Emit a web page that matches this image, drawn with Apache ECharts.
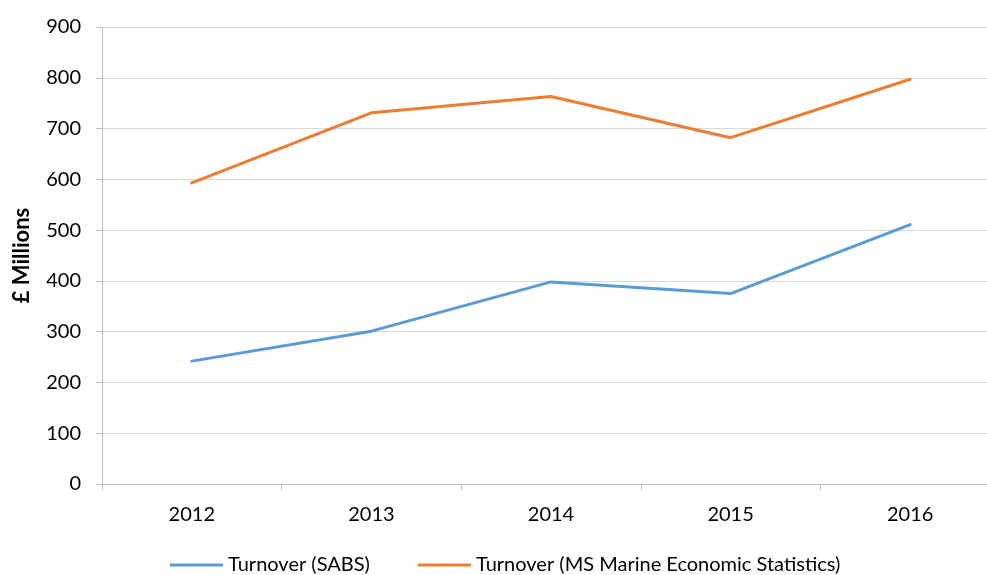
<!DOCTYPE html>
<html>
<head>
<meta charset="utf-8">
<script src="https://cdn.jsdelivr.net/npm/echarts@6/dist/echarts.min.js"></script>
<style>
  html, body { margin: 0; padding: 0; background: #fff; }
  #chart { width: 987px; height: 575px; }
</style>
</head>
<body>
<div id="chart"></div>
<script>
const years = ['2012', '2013', '2014', '2015', '2016'];
const sabs = [242, 301, 398, 375, 511];
const marine = [593, 731, 763, 682, 797];

const font = 'Lato, "Open Sans", sans-serif';
const chart = echarts.init(document.getElementById('chart'));

chart.setOption({
  animation: false,
  textStyle: { fontFamily: font },
  color: ['#5b9bd5', '#ed7d31'],
  grid: { left: 102, right: -13, top: 27, bottom: 91, outerBoundsMode: 'none', containLabel: false },
  legend: {
    top: 550,
    left: 165,
    padding: [5, 5],
    icon: 'rect',
    itemWidth: 53,
    itemHeight: 3,
    itemGap: 48,
    textStyle: { fontSize: 20, color: '#000', fontFamily: font },
    data: ['Turnover (SABS)', 'Turnover (MS Marine Economic Statistics)']
  },
  xAxis: {
    type: 'category',
    data: years,
    boundaryGap: true,
    axisLine: { lineStyle: { color: '#bfbfbf', width: 1 } },
    axisTick: { show: true, length: 6, lineStyle: { color: '#bfbfbf' } },
    axisLabel: { fontSize: 20, color: '#000', margin: 21 }
  },
  yAxis: {
    type: 'value',
    min: 0,
    max: 900,
    interval: 100,
    name: '£ Millions',
    nameLocation: 'middle',
    nameGap: 69,
    nameTextStyle: { fontSize: 22, fontWeight: 'bold', color: '#000' },
    axisLine: { show: true, lineStyle: { color: '#bfbfbf', width: 1 } },
    axisTick: { show: true, length: 6, lineStyle: { color: '#bfbfbf' } },
    axisLabel: { fontSize: 20, color: '#000', margin: 21 },
    splitLine: { lineStyle: { color: '#d9d9d9', width: 1 } }
  },
  series: [
    {
      name: 'Turnover (SABS)',
      type: 'line',
      data: sabs,
      symbol: 'none',
      lineStyle: { width: 3, cap: 'round' }
    },
    {
      name: 'Turnover (MS Marine Economic Statistics)',
      type: 'line',
      data: marine,
      symbol: 'none',
      lineStyle: { width: 3, cap: 'round' }
    }
  ]
});
</script>
</body>
</html>
